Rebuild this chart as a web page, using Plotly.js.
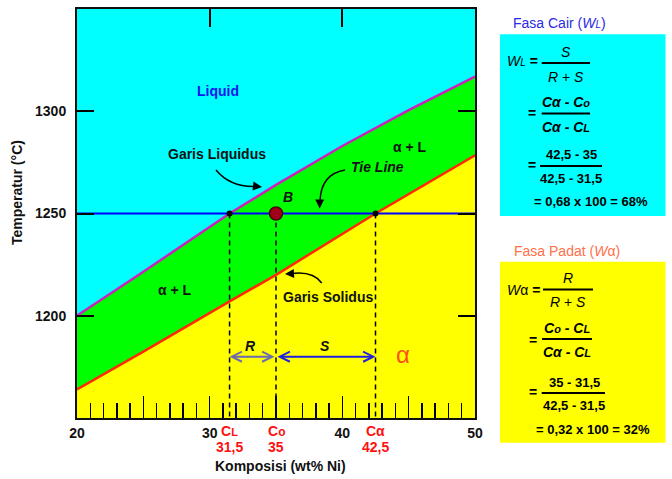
<!DOCTYPE html>
<html><head><meta charset="utf-8">
<script src="https://cdn.plot.ly/plotly-3.0.1.min.js"></script>
<style>html,body{margin:0;padding:0;background:#fff}</style>
</head><body><div id="chart" style="width:672px;height:479px"></div>
<script>
// ---- data ----
const liquidusX = [20, 25, 31.5, 35, 40, 45, 50];
const liquidusT = [1200, 1221.5, 1250, 1264, 1283, 1300.5, 1317];
const solidusX = [20, 25, 31.5, 35, 42.5, 50];
const solidusT = [1164, 1182.5, 1207, 1220, 1250, 1278.5];
const tieT = 1250;
const CL = 31.5, Co = 35, Ca = 42.5;
const armT = 1180;
const xRange = [20, 50];
const yRange = [1150, 1350];
const xTickVals = [20, 25, 30, 35, 40, 45, 50];
const xTickText = ['20', '', '30', '', '40', '', '50'];
const yTickVals = [1200, 1250, 1300];
const topTickVals = [30, 40];

// ---- layout helpers (pixel -> paper / data) ----
const L = 77, R = 475, T = 9, B = 418;
const PX = p => (p - L) / (R - L);
const PY = p => (B - p) / (B - T);
const DX = p => xRange[0] + (p - L) / (R - L) * (xRange[1] - xRange[0]);
const DY = p => yRange[0] + (B - p) / (B - T) * (yRange[1] - yRange[0]);
const fmt = v => String(v).replace('.', ',');
const FONT = 'Liberation Sans, Arial, sans-serif';
const sm = (s, size) => '<span style="font-size:' + size + 'px">' + s + '</span>';

const WL = (Ca - Co) / (Ca - CL);
const Wa = (Co - CL) / (Ca - CL);

const traces = [
  {x: solidusX, y: solidusT, mode: 'lines', fill: 'tozeroy', fillcolor: '#FFFF00', line: {width: 0}, hoverinfo: 'skip'},
  {x: liquidusX, y: liquidusT, mode: 'lines', fill: 'tonexty', fillcolor: '#00FF00', line: {width: 0}, hoverinfo: 'skip'},
  {x: liquidusX, y: liquidusT, mode: 'lines', line: {color: '#CC22BB', width: 2.5}},
  {x: solidusX, y: solidusT, mode: 'lines', line: {color: '#FF2A00', width: 2.5}},
  {x: xRange, y: [tieT, tieT], mode: 'lines', line: {color: '#0000FF', width: 2}},
  {x: [CL, CL, null, Co, Co, null, Ca, Ca], y: [tieT, yRange[0], null, tieT, yRange[0], null, tieT, yRange[0]],
   mode: 'lines', line: {color: '#000', width: 1.5, dash: '5px,4px'}},
  {x: [CL, Ca], y: [tieT, tieT], mode: 'markers', marker: {color: '#000', size: 6}},
  {x: [Co], y: [tieT], mode: 'markers', marker: {color: '#A00018', size: 13, line: {color: '#500000', width: 1.5}}},
  {x: [Co], y: [tieT], xaxis: 'x2', mode: 'markers', marker: {opacity: 0}, hoverinfo: 'skip'}
];

const ann = [];
function txt(text, px, py, size, color, opts) {
  ann.push(Object.assign({text: text, xref: 'paper', yref: 'paper', x: PX(px), y: PY(py),
    xanchor: 'center', yanchor: 'middle', showarrow: false,
    font: {family: FONT, size: size, color: color || '#000'}}, opts || {}));
}
// plot labels
txt('<b>Liquid</b>', 218, 91, 14, '#1414F0');
txt('<b>Garis Liquidus</b>', 217, 154, 14, '#111');
txt('<b>Garis Solidus</b>', 328, 297, 14, '#111');
txt('<b><i>Tie Line</i></b>', 377, 167, 14, '#111');
txt('<b><i>B</i></b>', 288, 197, 14, '#111');
txt('<b>α + L</b>', 410, 147, 14, '#111');
txt('<b>α + L</b>', 175, 290, 14, '#111');
txt('<b><i>R</i></b>', 250, 346, 14, '#111');
txt('<b><i>S</i></b>', 325, 346, 14, '#111');
txt('α', 403, 354, 24, '#FF5014');
// axis titles
txt('<b>Komposisi (wt% Ni)</b>', 280, 466, 14, '#111');
txt('<b>Temperatur (°C)</b>', 17, 193, 14, '#111', {textangle: -90});
// red composition labels
[[CL, 'C' + sm('L', 11)], [Co, 'C' + sm('o', 12)], [Ca, 'Cα']].forEach(([v, lab]) => {
  ann.push({text: '<b>' + lab + '</b>', xref: 'x', yref: 'paper', x: v, y: PY(431), showarrow: false,
    xanchor: 'center', yanchor: 'middle', font: {family: FONT, size: 14, color: '#FF1010'}});
  ann.push({text: '<b>' + fmt(v) + '</b>', xref: 'x', yref: 'paper', x: v, y: PY(446.5), showarrow: false,
    xanchor: 'center', yanchor: 'middle', font: {family: FONT, size: 14, color: '#FF1010'}});
});
// R / S arrows
ann.push({xref: 'x', yref: 'y', axref: 'x', ayref: 'y', x: CL, y: armT, ax: Co, ay: armT, text: '',
  showarrow: true, arrowhead: 5, startarrowhead: 5, arrowside: 'end+start', arrowsize: 1, arrowwidth: 2, arrowcolor: '#6A6AB0'});
ann.push({xref: 'x', yref: 'y', axref: 'x', ayref: 'y', x: Ca, y: armT, ax: Co, ay: armT, text: '',
  showarrow: true, arrowhead: 5, startarrowhead: 5, arrowside: 'end+start', arrowsize: 1, arrowwidth: 2, arrowcolor: '#2020E0'});
// curved pointer arrowheads
function head(px, py, ax, ay) {
  ann.push({xref: 'x', yref: 'y', x: DX(px), y: DY(py), ax: ax, ay: ay, text: '', showarrow: true,
    arrowhead: 2, arrowsize: 1.2, arrowwidth: 1.5, arrowcolor: '#000'});
}
head(262, 187, -9, -1);
head(319.7, 208.5, 0, -9);
head(285, 274, 9, -0.5);

// formula boxes
const F = 14;
// cyan box
txt('Fasa Cair (<i>W' + sm('L', 10) + '</i>)', 511, 23.5, 14, '#2A2AE8', {xanchor: 'left'});
txt('<i>W' + sm('L', 10) + '</i> <b>=</b>', 505, 61, F, '#000', {xanchor: 'left'});
txt('<i>S</i>', 566, 52, F);
txt('<i>R</i> + <i>S</i>', 566, 77, F);
txt('<b>=</b>', 532, 113, F);
txt('<b><i>Cα - C' + sm('o', 11) + '</i></b>', 566, 102, F);
txt('<b><i>Cα - C' + sm('L', 11) + '</i></b>', 566, 127, F);
txt('<b>=</b>', 532, 165, F);
txt('<b>' + fmt(Ca) + ' - ' + fmt(Co) + '</b>', 571, 154.5, 13);
txt('<b>' + fmt(Ca) + ' - ' + fmt(CL) + '</b>', 571, 178.5, 13);
txt('<b>= ' + fmt(WL.toFixed(2)) + ' x 100 = ' + Math.round(WL * 100) + '%</b>', 591, 201.5, 13);
// yellow box
txt('Fasa Padat (<i>W</i>α)', 511.5, 251, 14, '#FF7048', {xanchor: 'left'});
txt('<i>W</i>α <b>=</b>', 505, 290, F, '#000', {xanchor: 'left'});
txt('<i>R</i>', 568, 278, F);
txt('<i>R</i> + <i>S</i>', 568, 302, F);
txt('<b>=</b>', 533, 340, F);
txt('<b><i>C' + sm('o', 11) + ' - C' + sm('L', 11) + '</i></b>', 567, 328, F);
txt('<b><i>Cα - C' + sm('L', 11) + '</i></b>', 567, 352, F);
txt('<b>=</b>', 533, 392, F);
txt('<b>' + fmt(Co) + ' - ' + fmt(CL) + '</b>', 574, 382, 13);
txt('<b>' + fmt(Ca) + ' - ' + fmt(CL) + '</b>', 574, 405, 13);
txt('<b>= ' + fmt(Wa.toFixed(2)) + ' x 100 = ' + Math.round(Wa * 100) + '%</b>', 592.5, 430, 13);

const shapes = [];
function rect(x0, y0, x1, y1, c) {
  shapes.push({type: 'rect', xref: 'paper', yref: 'paper', x0: PX(x0), x1: PX(x1), y0: PY(y1), y1: PY(y0),
    fillcolor: c, line: {width: 0}, layer: 'below'});
}
function hl(x0, x1, y) {
  shapes.push({type: 'line', xref: 'paper', yref: 'paper', x0: PX(x0), x1: PX(x1), y0: PY(y), y1: PY(y),
    line: {color: '#000', width: 2}});
}
function curve(p0, c, p1) {
  shapes.push({type: 'path', xref: 'x', yref: 'y',
    path: 'M' + DX(p0[0]) + ',' + DY(p0[1]) + ' Q' + DX(c[0]) + ',' + DY(c[1]) + ' ' + DX(p1[0]) + ',' + DY(p1[1]),
    line: {color: '#000', width: 1.5}});
}
rect(500, 34.3, 665.5, 216, '#00FFFF');
rect(500, 261.7, 665.5, 442.7, '#FFFF00');
hl(541.7, 590, 63); hl(541.7, 590, 113.5); hl(540, 602, 166);
hl(543, 593, 289.5); hl(542, 592, 339); hl(541.7, 605, 393);
curve([216, 170], [230, 187], [255, 186.5]);
curve([345, 170], [321, 174], [320, 201]);
curve([321.7, 283], [313, 271], [292, 273.5]);

const layout = {
  width: 672, height: 479,
  margin: {l: L, r: 672 - R, t: T, b: 479 - B, pad: 0},
  paper_bgcolor: '#fff', plot_bgcolor: '#00FFFF',
  showlegend: false,
  font: {family: FONT, color: '#111'},
  xaxis: {range: xRange, tickmode: 'array', tickvals: xTickVals, ticktext: xTickText,
    ticks: 'inside', ticklen: 22, tickwidth: 1.5, tickcolor: '#000',
    minor: {dtick: 1, tick0: 20, ticks: 'inside', ticklen: 15, tickwidth: 1.5, tickcolor: '#000', showgrid: false},
    showgrid: false, zeroline: false, showline: true, linecolor: '#111', linewidth: 2, mirror: true,
    tickfont: {family: FONT, size: 14, color: '#111', weight: 'bold'}, ticklabelstandoff: 1, layer: 'above traces'},
  xaxis2: {range: xRange, overlaying: 'x', side: 'top', anchor: 'y', tickmode: 'array', tickvals: topTickVals,
    ticks: 'inside', ticklen: 18, tickwidth: 2, tickcolor: '#000', showticklabels: false,
    showgrid: false, zeroline: false, showline: false},
  yaxis: {range: yRange, tickmode: 'array', tickvals: yTickVals,
    ticks: 'inside', ticklen: 17, tickwidth: 2, tickcolor: '#000',
    showgrid: false, zeroline: false, showline: true, linecolor: '#111', linewidth: 2, mirror: 'ticks',
    tickfont: {family: FONT, size: 14, color: '#111', weight: 'bold'}, ticklabelstandoff: 6, layer: 'above traces'},
  annotations: ann,
  shapes: shapes
};
Plotly.newPlot('chart', traces, layout, {staticPlot: true, displayModeBar: false});
</script></body></html>
